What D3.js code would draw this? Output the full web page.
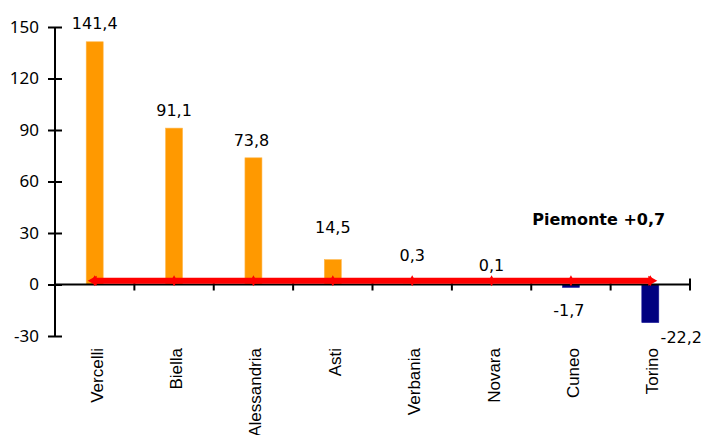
<!DOCTYPE html>
<html>
<head>
<meta charset="utf-8">
<script src="https://cdn.jsdelivr.net/npm/d3@7"></script>
<style>
  html, body { margin: 0; padding: 0; background: #fff; }
  svg { display: block; }
</style>
</head>
<body>
<svg id="chart" width="702" height="435"></svg>
<script>
// ---- data ----
const categories = ["Vercelli", "Biella", "Alessandria", "Asti", "Verbania", "Novara", "Cuneo", "Torino"];
const values = [141.4, 91.1, 73.8, 14.5, 0.3, 0.1, -1.7, -22.2];
const valueLabels = ["141,4", "91,1", "73,8", "14,5", "0,3", "0,1", "-1,7", "-22,2"];
const piemonteValue = 0.7;
const piemonteLabel = "Piemonte +0,7";
const yTicks = [-30, 0, 30, 60, 90, 120, 150];

// label nudges (layout only: dx, dy in px relative to bar end)
const labelNudge = [[0, -12.5], [0, -12], [-2, -12], [0, -27], [0, -23], [0, -13], [-2, 29], [31, 20]];

const svg = d3.select("#chart");
const mLeft = 55, mRight = 691, mTop = 27, mBottom = 336;

const x = d3.scaleBand().domain(categories).range([mLeft, 690]).padding(0);
const y = d3.scaleLinear().domain([-30, 150]).range([mBottom, mTop]);
const barW = 17;
const cx = c => x(c) + x.bandwidth() / 2;

// bars
svg.append("g").selectAll("rect")
  .data(categories.map((c, i) => ({ c, v: values[i], i })))
  .join("rect")
  .attr("x", d => cx(d.c) - barW / 2)
  .attr("width", barW)
  .attr("y", d => y(Math.max(0, d.v)))
  .attr("height", d => Math.abs(y(d.v) - y(0)))
  .attr("fill", d => d.v >= 0 ? "#FF9900" : "#000080")
  .attr("stroke", d => d.v >= 0 ? "#FFB84D" : "#1A1A99")
  .attr("stroke-width", 0.6);

// y axis
const yAxis = d3.axisLeft(y).tickValues(yTicks).tickSize(14).tickSizeOuter(0).tickPadding(9)
  .tickFormat(d => String(d));
const gy = svg.append("g").attr("transform", `translate(${mLeft + 7},0)`).call(yAxis);
gy.select(".domain").remove();
gy.selectAll(".tick line").attr("stroke", "#000").attr("stroke-width", 2);
gy.selectAll(".tick text").attr("font-family", "Noto Sans, Open Sans, sans-serif").attr("font-size", 17).attr("fill", "#000");
svg.append("line").attr("x1", mLeft).attr("x2", mLeft).attr("y1", y(150)).attr("y2", y(-30))
  .attr("stroke", "#000").attr("stroke-width", 2);

// x axis line with cross ticks at category boundaries
svg.append("line").attr("x1", mLeft).attr("x2", mRight).attr("y1", y(0)).attr("y2", y(0))
  .attr("stroke", "#000").attr("stroke-width", 2);
svg.append("g").selectAll("line")
  .data(categories)
  .join("line")
  .attr("x1", c => x(c) + x.bandwidth()).attr("x2", c => x(c) + x.bandwidth())
  .attr("y1", y(0) - 6).attr("y2", y(0) + 6)
  .attr("stroke", "#000").attr("stroke-width", 2);

// category labels
svg.append("g").selectAll("text")
  .data(categories)
  .join("text")
  .attr("transform", c => `translate(${cx(c) + 8},${y(-30) + 12}) rotate(-90)`)
  .attr("text-anchor", "end")
  .attr("font-family", "Liberation Sans, Arial, sans-serif")
  .attr("font-size", 17)
  .attr("fill", "#000")
  .text(c => c);

// Piemonte line
const ly = y(piemonteValue) - 2.6;
const first = cx(categories[0]), last = cx(categories[categories.length - 1]);
svg.append("line").attr("x1", first).attr("x2", last).attr("y1", ly).attr("y2", ly)
  .attr("stroke", "#FF0000").attr("stroke-width", 6);
svg.append("path")
  .attr("d", `M${first - 7},${ly} L${first + 2},${ly - 5} L${first + 2},${ly + 5} Z`)
  .attr("fill", "#FF0000");
svg.append("path")
  .attr("d", `M${last + 7},${ly} L${last - 2},${ly - 5} L${last - 2},${ly + 5} Z`)
  .attr("fill", "#FF0000");
svg.append("g").selectAll("path")
  .data(categories)
  .join("path")
  .attr("d", c => `M${cx(c)},${ly - 5.5} L${cx(c) + 3},${ly} L${cx(c)},${ly + 5.5} L${cx(c) - 3},${ly} Z`)
  .attr("fill", "#FF0000");

// value labels
svg.append("g").selectAll("text")
  .data(categories.map((c, i) => ({ c, v: values[i], i })))
  .join("text")
  .attr("x", d => cx(d.c) + labelNudge[d.i][0])
  .attr("y", d => y(d.v) + labelNudge[d.i][1])
  .attr("text-anchor", "middle")
  .attr("font-family", "DejaVu Sans, sans-serif")
  .attr("font-size", 16)
  .attr("fill", "#000")
  .text(d => valueLabels[d.i]);

// Piemonte annotation
svg.append("text")
  .attr("x", x("Cuneo") + x.bandwidth() * 0.85)
  .attr("y", y(piemonteValue) - 58)
  .attr("text-anchor", "middle")
  .attr("font-family", "DejaVu Sans, sans-serif")
  .attr("font-weight", "bold")
  .attr("font-size", 16)
  .attr("fill", "#000")
  .text(piemonteLabel);
</script>
</body>
</html>
